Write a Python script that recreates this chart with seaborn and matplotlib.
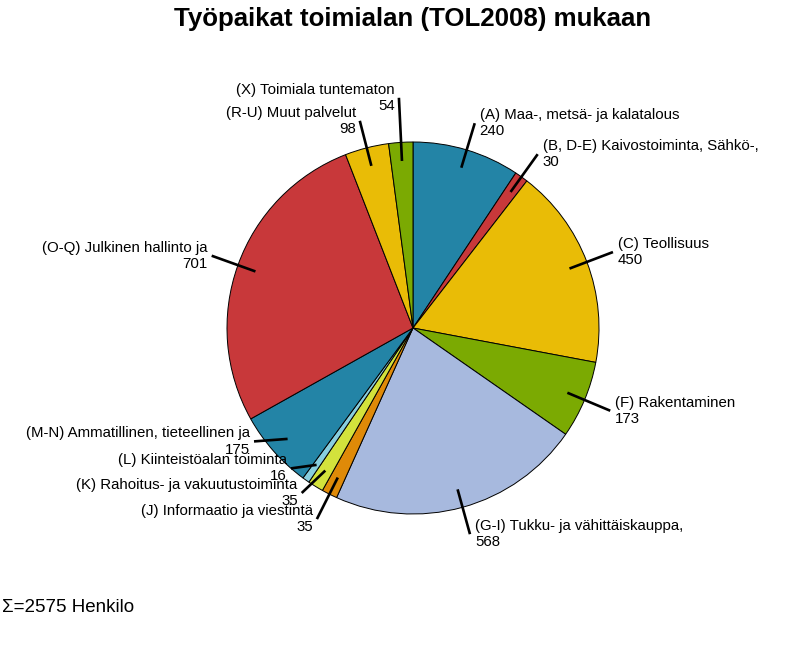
import numpy as np
import seaborn as sns
import matplotlib
matplotlib.use("Agg")
import matplotlib.pyplot as plt

# toimialat ja henkilömäärät
labels = ["(A) Maa-, metsä- ja kalatalous", "(B, D-E) Kaivostoiminta, Sähkö-,",
          "(C) Teollisuus", "(F) Rakentaminen", "(G-I) Tukku- ja vähittäiskauppa,",
          "(J) Informaatio ja viestintä", "(K) Rahoitus- ja vakuutustoiminta",
          "(L) Kiinteistöalan toiminta", "(M-N) Ammatillinen, tieteellinen ja",
          "(O-Q) Julkinen hallinto ja", "(R-U) Muut palvelut", "(X) Toimiala tuntematon"]
values = [240, 30, 450, 173, 568, 35, 35, 16, 175, 701, 98, 54]
colors = ["#2384A6", "#C8383A", "#E9BC06", "#7BAA02", "#A7B9DE", "#DF8A08",
          "#D3E23C", "#88CEDF", "#2384A6", "#C8383A", "#E9BC06", "#7BAA02"]
title = "Työpaikat toimialan (TOL2008) mukaan"
unit = "Henkilo"

sns.set_theme(style="white")
plt.rcParams['font.family'] = ['Liberation Sans', 'DejaVu Sans']
plt.rcParams['text.color'] = 'black'

W, H = 806, 653
fig = plt.figure(figsize=(W / 100, H / 100), dpi=100)
ax = fig.add_axes([0, 0, 1, 1])

cx, cy, r = 413, H - 328, 186
wedges, _ = ax.pie(values, colors=colors, startangle=90, counterclock=False,
                   center=(cx, cy), radius=r, frame=True,
                   wedgeprops=dict(edgecolor='black', linewidth=0.7))
ax.set_xlim(0, W)
ax.set_ylim(0, H)
ax.set_aspect('equal')
ax.axis('off')

# siirretyt nimiöt: (kulma myötäpäivään ylhäältä, säteen kerroin)
moved = {11: (356.5, 1.24), 8: (234.5, 1.05), 7: (221, 1.0), 6: (214, 1.07)}

for i, w in enumerate(wedges):
    mid = np.deg2rad((w.theta1 + w.theta2) / 2)
    x0, y0 = cx + 0.9 * r * np.cos(mid), cy + 0.9 * r * np.sin(mid)
    if i in moved:
        a, k = moved[i]
        ang = np.deg2rad(90 - a)
    else:
        ang, k = mid, 1.15
    x1, y1 = cx + k * r * np.cos(ang), cy + k * r * np.sin(ang)
    ax.plot([x0, x1], [y0, y1], color='black', lw=1.9, solid_capstyle='butt', clip_on=False)
    right = x1 >= cx
    ax.text(x1 + 5 if right else x1 - 4, y1, f"{labels[i]}\n{values[i]}",
            ha='left' if right else 'right', va='center', fontsize=10.8,
            multialignment='left' if right else 'right', linespacing=1.2)

ax.text(cx, H - 19, title, ha='center', va='center', fontsize=18.6, fontweight='bold')
ax.text(2, H - 607, f"Σ={sum(values)} {unit}", ha='left', va='center', fontsize=13.5)

fig.savefig("out.png", dpi=100, facecolor='white')
